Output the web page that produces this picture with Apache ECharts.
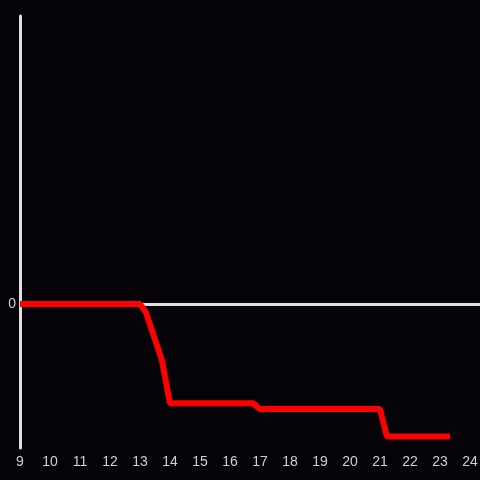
<!DOCTYPE html>
<html>
<head>
<meta charset="utf-8">
<script src="https://cdn.jsdelivr.net/npm/echarts@6/dist/echarts.min.js"></script>
<style>
  html, body { margin: 0; padding: 0; background: #050307; }
  #chart { width: 480px; height: 480px; }
</style>
</head>
<body>
<div id="chart"></div>
<script>
// hour of day vs. value
const hours = [9, 13, 13.2, 13.73, 14, 16.77, 17, 21, 21.23, 23.33]
const values = [0, 0, -0.06, -0.39, -0.69, -0.69, -0.73, -0.73, -0.92, -0.92]

const chart = echarts.init(document.getElementById('chart'))

chart.setOption({
  backgroundColor: '#050307',
  animation: false,
  grid: { left: 20, right: 0, top: 16, bottom: 32, outerBoundsMode: 'none' },
  xAxis: {
    type: 'value',
    min: 9,
    max: 24.333,
    interval: 1,
    axisLine: { show: false, onZero: false },
    axisTick: { show: false },
    splitLine: { show: false },
    axisLabel: {
      color: '#d0d0d0',
      fontSize: 14,
      fontFamily: 'Liberation Sans',
      margin: 7,
      formatter: (v) => (Number.isInteger(v) ? String(v) : ''),
    },
  },
  yAxis: {
    type: 'value',
    min: -1,
    max: 2,
    interval: 1,
    axisLine: { show: true, lineStyle: { color: '#e0e0e0', width: 3 } },
    axisTick: { show: false },
    splitLine: { show: false },
    axisLabel: {
      color: '#d0d0d0',
      fontSize: 14,
      fontFamily: 'Liberation Sans',
      margin: 4,
      formatter: (v) => (v === 0 ? '0' : ''),
    },
  },
  series: [
    {
      type: 'line',
      data: hours.map((h, i) => [h, values[i]]),
      showSymbol: false,
      lineStyle: { color: '#ff0000', width: 6 },
      markLine: {
        silent: true,
        symbol: 'none',
        label: { show: false },
        lineStyle: { color: '#e0e0e0', width: 3, type: 'solid' },
        data: [{ yAxis: 0 }],
        z: 1,
      },
    },
  ],
})
</script>
</body>
</html>
